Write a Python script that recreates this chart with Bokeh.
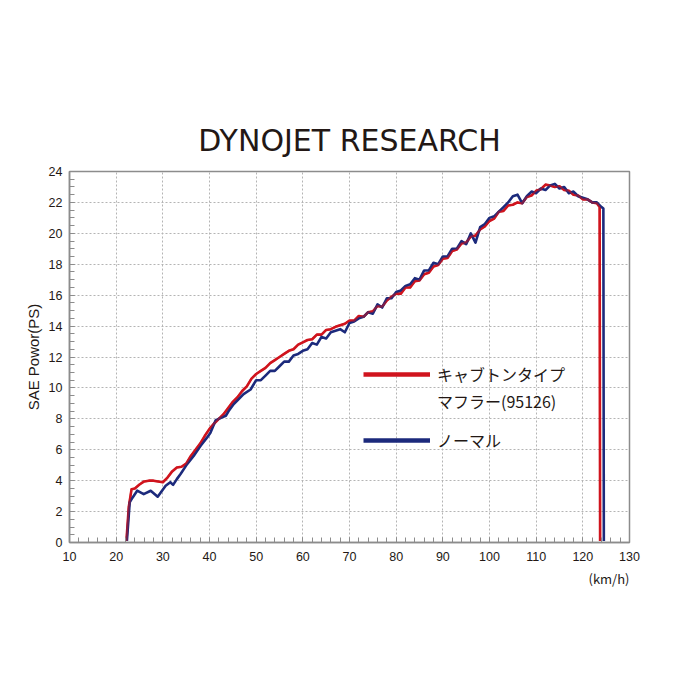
from bokeh.plotting import figure
from bokeh.models import Range1d, Legend, LegendItem, Title, SingleIntervalTicker
from bokeh.embed import file_html
from bokeh.resources import INLINE

# ---- data ----
red_label_1 = "キャブトンタイプ"
red_label_2 = "マフラー(95126)"
blue_label = "ノーマル"
title_text = "DYNOJET RESEARCH"
y_title = "SAE Powor(PS)"
x_unit = "(km/h)"

red_kmh = [22.2, 22.7, 23.3, 24, 25, 26, 27, 28, 29, 30, 31, 32, 33, 34, 35, 36, 37, 38, 39, 40,
           41, 42, 43, 44, 45, 46, 47, 48, 49, 50, 51, 52, 53, 54, 55, 56, 57, 58, 59, 60,
           61, 62, 63, 64, 65, 66, 67, 68, 69, 70, 71, 72, 73, 74, 75, 76, 77, 78, 79, 80,
           81, 82, 83, 84, 85, 86, 87, 88, 89, 90, 91, 92, 93, 94, 95, 96, 97, 98, 99, 100,
           101, 102, 103, 104, 105, 106, 107, 108, 109, 110, 111, 112, 113, 114, 115, 116, 117, 118, 119, 120,
           121, 122, 123, 123.6, 123.7]
red_ps = [0.1, 2.3, 3.45, 3.5, 3.75, 3.95, 4.0, 4.0, 3.95, 3.9, 4.2, 4.6, 4.85, 4.9, 5.1, 5.6, 6.0, 6.4, 6.9, 7.35,
          7.7, 8.0, 8.3, 8.7, 9.1, 9.4, 9.8, 10.1, 10.6, 10.9, 11.1, 11.3, 11.6, 11.8, 12.0, 12.2, 12.4, 12.5, 12.8, 12.95,
          13.1, 13.15, 13.45, 13.45, 13.75, 13.8, 13.95, 14.05, 14.15, 14.35, 14.35, 14.65, 14.6, 14.9, 14.95, 15.3, 15.25, 15.65, 15.9, 16.1,
          16.1, 16.5, 16.5, 16.9, 16.95, 17.35, 17.45, 17.85, 17.95, 18.35, 18.4, 18.85, 18.95, 19.35, 19.4, 19.8, 19.85, 20.25, 20.45, 20.8,
          20.95, 21.4, 21.45, 21.8, 21.85, 22.0, 21.95, 22.35, 22.45, 22.75, 22.85, 23.15, 23.1, 23.0, 23.05, 22.8, 22.75, 22.5, 22.45, 22.2,
          22.2, 22.0, 21.95, 21.7, 0.1]

blue_kmh = [22.3, 22.9, 23.5, 24.5, 25.9, 27.4, 28.9, 30.6, 31.6, 32.2, 33.0, 33.8, 35.2, 36.6, 38.1, 39.5, 40.2, 41.3, 42.7, 43.5,
            44.1, 45.2, 46.0, 47.3, 48.8, 50, 51, 52, 53, 54, 55, 56, 57, 58, 59, 60,
            61, 62, 63, 64, 65, 66, 67, 68, 69, 70, 71, 72, 73, 74, 75, 76, 77, 78, 79, 80,
            81, 82, 83, 84, 85, 86, 87, 88, 89, 90, 91, 92, 93, 94, 95, 96, 97, 98, 99, 100,
            101, 102, 103, 104, 105, 106, 107, 108, 109, 110, 111, 112, 113, 114, 115, 116, 117, 118, 119, 120,
            121, 122, 123, 124, 124.4, 124.5]
blue_ps = [0.1, 2.6, 2.9, 3.35, 3.13, 3.35, 2.96, 3.67, 3.9, 3.73, 4.1, 4.43, 5.07, 5.6, 6.26, 6.8, 7.1, 7.9, 8.1, 8.2,
           8.5, 8.96, 9.2, 9.6, 9.9, 10.5, 10.5, 10.8, 11.1, 11.1, 11.4, 11.7, 11.7, 12.1, 12.2, 12.4,
           12.5, 12.9, 12.8, 13.3, 13.2, 13.6, 13.7, 13.8, 13.6, 14.2, 14.3, 14.5, 14.6, 14.9, 14.8, 15.4, 15.2, 15.8, 15.8, 16.2,
           16.3, 16.6, 16.7, 17.1, 17.0, 17.6, 17.6, 18.1, 18.0, 18.5, 18.5, 19.0, 19.0, 19.5, 19.3, 20.0, 19.4, 20.4, 20.6, 21.0,
           21.1, 21.4, 21.7, 22.0, 22.4, 22.5, 21.95, 22.4, 22.7, 22.6, 22.9, 22.8, 23.1, 23.2, 22.9, 23.0, 22.6, 22.7, 22.4, 22.3,
           22.2, 22.0, 22.0, 21.7, 21.6, 0.1]

RED = "#d0141e"
BLUE = "#1c2a7c"
TXT = "#231815"
GRAY = "#8c8c8c"

p = figure(width=684, height=684, output_backend="svg", toolbar_location=None,
           x_range=Range1d(10, 130), y_range=Range1d(0, 24),
           min_border_left=69, min_border_right=55, min_border_top=171, min_border_bottom=142,
           background_fill_color="white", border_fill_color="white")
# an off-screen range, used only for the legend swatches
p.extra_y_ranges = {"swatch": Range1d(1000, 1001)}

p.add_layout(Title(text=title_text, align="center", text_font="DejaVu Sans", text_font_size="30px",
                   text_font_style="normal", text_color=TXT, standoff=28), "above")
p.add_layout(Title(text=x_unit, align="right", text_font="Noto Sans CJK JP", text_font_size="13px",
                   text_font_style="normal", text_color=TXT, standoff=6), "below")
p.add_layout(Title(text=y_title, align="center", text_font="Liberation Sans", text_font_size="15px",
                   text_font_style="normal", text_color=TXT, standoff=8, offset=20), "left")

p.line(red_kmh, red_ps, line_color=RED, line_width=2.6, line_join="round")
p.line(blue_kmh, blue_ps, line_color=BLUE, line_width=2.6, line_join="round")
p.line(red_kmh, red_ps, line_color=RED, line_width=2.0, line_alpha=0.55, line_join="round")

# axes
p.xaxis.ticker = SingleIntervalTicker(interval=10, num_minor_ticks=5)
p.yaxis.ticker = SingleIntervalTicker(interval=2, num_minor_ticks=4)
for ax in (p.xaxis[0], p.yaxis[0]):
    ax.axis_line_color = GRAY
    ax.axis_line_width = 1.5
    ax.major_tick_line_color = GRAY
    ax.minor_tick_line_color = GRAY
    ax.major_tick_in = 5
    ax.major_tick_out = 0
    ax.minor_tick_in = 5
    ax.minor_tick_out = 0
    ax.major_label_text_font = "Liberation Sans"
    ax.major_label_text_font_size = "12.5px"
    ax.major_label_text_color = TXT
p.xaxis.major_label_standoff = 9
p.yaxis.major_label_standoff = 7

p.outline_line_color = GRAY
p.outline_line_width = 1.5
p.xgrid.grid_line_color = "#b4b4b4"
p.ygrid.grid_line_color = "#b4b4b4"
p.xgrid.grid_line_dash = "2 2"
p.ygrid.grid_line_dash = "2 2"
p.xgrid.grid_line_width = 1
p.ygrid.grid_line_width = 1

# legend swatches: same data, drawn on an off-screen range so only the legend shows them
r_sw = p.line(red_kmh, red_ps, line_color=RED, line_width=4.5, y_range_name="swatch")
r_blank = p.line(red_kmh, red_ps, line_color=RED, line_alpha=0, y_range_name="swatch")
b_sw = p.line(blue_kmh, blue_ps, line_color=BLUE, line_width=4.5, y_range_name="swatch")

def make_legend(items, loc):
    lg = Legend(items=items, location=loc, orientation="vertical",
                label_text_font="Noto Sans CJK JP", label_text_font_size="16px",
                label_text_color=TXT, glyph_width=67, glyph_height=20, label_height=20,
                label_standoff=7, spacing=3, padding=0, margin=0,
                border_line_color=None, background_fill_alpha=0)
    p.add_layout(lg, "center")

make_legend([LegendItem(label=red_label_1, renderers=[r_sw]),
             LegendItem(label=red_label_2, renderers=[r_blank])], (294, 129))
make_legend([LegendItem(label=blue_label, renderers=[b_sw])], (294, 90))

open("out.html", "w").write(file_html(p, INLINE))
